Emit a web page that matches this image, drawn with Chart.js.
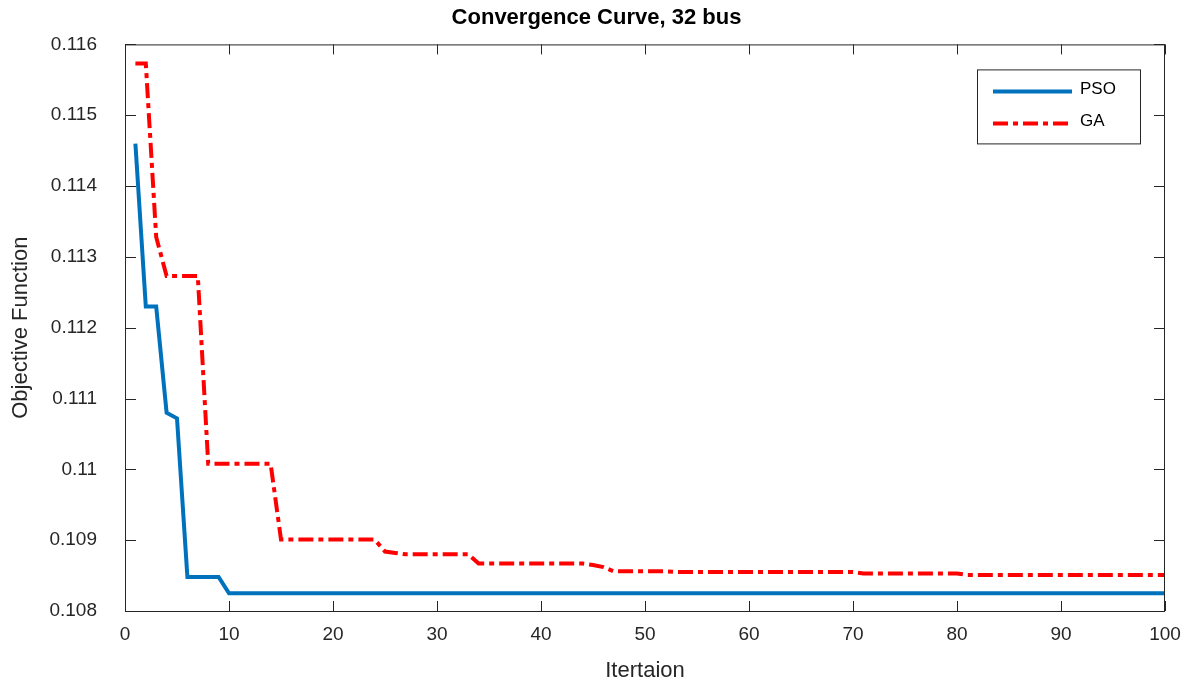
<!DOCTYPE html>
<html>
<head>
<meta charset="utf-8">
<script src="https://cdn.jsdelivr.net/npm/chart.js@4.4.1/dist/chart.umd.min.js"></script>
<style>
  html, body { margin: 0; padding: 0; background: #fff; }
  canvas { display: block; }
</style>
</head>
<body>
<canvas id="convChart" width="1182" height="682"></canvas>
<script>
// Data (vertices of each curve)
const psoIter = [1, 2, 3, 4, 5, 6, 9, 10, 100];
const psoVals = [0.11460, 0.11230, 0.11230, 0.11080, 0.11072, 0.10848, 0.10848, 0.10825, 0.10825];

const gaIter = [1, 2, 3, 4, 7, 8, 14, 15, 24, 25, 26, 27, 33, 34, 44, 45, 46, 47, 52, 53, 70, 71, 80, 81, 100];
const gaVals = [0.11573, 0.11573, 0.11328, 0.11273, 0.11273, 0.11008, 0.11008, 0.10901, 0.10901,
                0.10884, 0.10882, 0.10880, 0.10880, 0.10867, 0.10867, 0.10865, 0.10862, 0.10856,
                0.10856, 0.10855, 0.10855, 0.10853, 0.10853, 0.10851, 0.10851];

const seriesNames = ['PSO', 'GA'];
const xTicks = [0, 10, 20, 30, 40, 50, 60, 70, 80, 90, 100];
const yTicks = [0.108, 0.109, 0.110, 0.111, 0.112, 0.113, 0.114, 0.115, 0.116];

const axisColor = '#262626';
const font = 'Liberation Sans, Arial, Helvetica, sans-serif';

function toPoints(xs, ys) {
  return xs.map((x, i) => ({ x: x, y: ys[i] }));
}

// box around the plot with inward ticks (MATLAB style) + legend
const boxPlugin = {
  id: 'box',
  afterDraw(chart) {
    const { ctx, chartArea: a, scales } = chart;
    ctx.save();
    ctx.strokeStyle = axisColor;
    ctx.lineWidth = 1;
    ctx.strokeRect(a.left + 0.5, a.top + 0.5, a.right - a.left - 1, a.bottom - a.top);
    ctx.beginPath();
    xTicks.forEach(v => {
      const px = Math.round(scales.x.getPixelForValue(v)) + 0.5;
      ctx.moveTo(px, a.bottom); ctx.lineTo(px, a.bottom - 10);
      ctx.moveTo(px, a.top); ctx.lineTo(px, a.top + 10);
    });
    yTicks.forEach(v => {
      const py = Math.round(scales.y.getPixelForValue(v)) + 0.5;
      ctx.moveTo(a.left, py); ctx.lineTo(a.left + 11, py);
      ctx.moveTo(a.right, py); ctx.lineTo(a.right - 11, py);
    });
    ctx.stroke();

    const bx = a.right - 188, by = a.top + 25, bw = 163, bh = 74;
    ctx.fillStyle = '#fff';
    ctx.fillRect(bx, by, bw, bh);
    ctx.strokeRect(bx + 0.5, by + 0.5, bw, bh);
    chart.data.datasets.forEach((ds, i) => {
      const ly = by + 22 + i * 32;
      ctx.beginPath();
      ctx.strokeStyle = ds.borderColor;
      ctx.lineWidth = ds.borderWidth;
      ctx.setLineDash(ds.borderDash || []);
      ctx.moveTo(bx + 16, ly); ctx.lineTo(bx + 95, ly);
      ctx.stroke();
      ctx.setLineDash([]);
      ctx.fillStyle = '#000';
      ctx.font = '17px ' + font;
      ctx.textBaseline = 'middle';
      ctx.fillText(ds.label, bx + 103, ly - 2);
    });
    ctx.restore();
  }
};

const ctx = document.getElementById('convChart').getContext('2d');
const convChart = new Chart(ctx, {
  type: 'line',
  data: {
    datasets: [{
      label: seriesNames[0],
      data: toPoints(psoIter, psoVals),
      borderColor: '#0072BD',
      borderWidth: 4,
      pointRadius: 0,
      tension: 0
    }, {
      label: seriesNames[1],
      data: toPoints(gaIter, gaVals),
      borderColor: '#FF0000',
      borderWidth: 4,
      borderDash: [15, 5, 5, 5],
      pointRadius: 0,
      tension: 0
    }]
  },
  options: {
    responsive: false,
    animation: false,
    layout: { padding: { left: 28, right: 17, top: 0, bottom: 0 } },
    plugins: {
      legend: { display: false },
      tooltip: { enabled: false },
      title: {
        display: true,
        text: 'Convergence Curve, 32 bus',
        color: '#000',
        font: { family: font, size: 22, weight: 'bold', lineHeight: 1.2 },
        padding: { top: 5, bottom: 13 }
      }
    },
    scales: {
      x: {
        type: 'linear',
        min: 0,
        max: 100,
        afterBuildTicks: s => { s.ticks = xTicks.map(v => ({ value: v })); },
        afterFit: s => { s.height = 71; s.paddingLeft = 0; s.paddingRight = 0; },
        grid: { display: false, drawTicks: false },
        border: { display: false },
        ticks: { color: axisColor, padding: 12, maxRotation: 0, font: { family: font, size: 19 } },
        title: {
          display: true,
          text: 'Itertaion',
          color: axisColor,
          font: { family: font, size: 22, lineHeight: 1 },
          padding: { top: 10, bottom: 0 }
        }
      },
      y: {
        min: 0.108,
        max: 0.116,
        afterBuildTicks: s => { s.ticks = yTicks.map(v => ({ value: v })); },
        afterFit: s => { s.width = 97; },
        grid: { display: false, drawTicks: false },
        border: { display: false },
        ticks: {
          color: axisColor,
          padding: 28,
          font: { family: font, size: 19 },
          callback: v => parseFloat(v.toFixed(3)).toString()
        },
        title: {
          display: true,
          text: 'Objective Function',
          color: axisColor,
          font: { family: font, size: 22, lineHeight: 1 },
          padding: { top: -18, bottom: 0 }
        }
      }
    }
  },
  plugins: [boxPlugin]
});
</script>
</body>
</html>
